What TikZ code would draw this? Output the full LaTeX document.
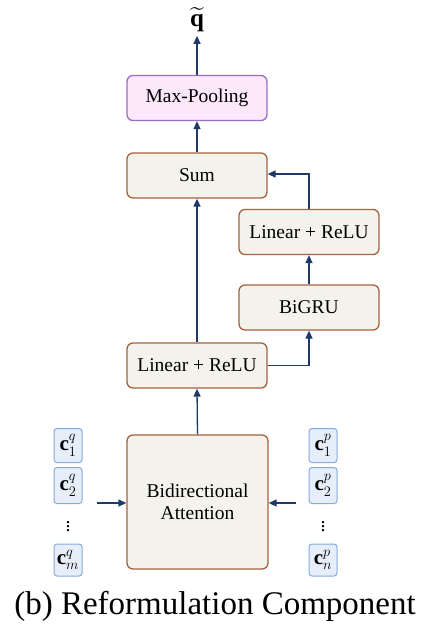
\documentclass[tikz,border=0pt]{standalone}
\usepackage{fontspec}
\setmainfont{Liberation Serif}
\usepackage{amsmath}
\usetikzlibrary{arrows.meta}
\definecolor{boxfill}{HTML}{F4F3EB}
\definecolor{boxdraw}{HTML}{A4623F}
\definecolor{poolfill}{HTML}{FCE8FA}
\definecolor{pooldraw}{HTML}{9A6CC8}
\definecolor{cfill}{HTML}{E6EEF9}
\definecolor{cdraw}{HTML}{86ABDD}
\definecolor{arr}{HTML}{1F3A66}
\begin{document}
\begin{tikzpicture}[x=1pt,y=-1pt,
  blk/.style={draw=boxdraw,fill=boxfill,line width=1.3pt,rounded corners=6pt,minimum width=140pt,minimum height=45pt,inner sep=0pt,font=\fontsize{19.5}{22}\selectfont},
  pool/.style={blk,draw=pooldraw,fill=poolfill},
  cbox/.style={draw=cdraw,fill=cfill,line width=1pt,rounded corners=3pt,minimum width=28pt,minimum height=34pt,inner sep=0pt,font=\fontsize{21}{23}\selectfont},
  dots/.style={inner sep=0pt,font=\fontsize{20}{22}\selectfont},
  conn/.style={draw=arr,line width=1.3pt,-{Triangle[length=8pt,width=7pt]}}]
\useasboundingbox (0,0) rectangle (442,638);
\node[font=\fontsize{25}{27}\selectfont] (q) at (197,20) {$\widetilde{\mathbf{q}}$};
\node[pool] (mp) at (197,98) {Max-Pooling};
\node[blk] (sum) at (197,175.5) {Sum};
\node[blk] (lr2) at (309,232) {Linear + ReLU};
\node[blk] (gru) at (309,307.5) {BiGRU};
\node[blk] (lr1) at (197,365.5) {Linear + ReLU};
\node[blk,minimum width=141pt,minimum height=134pt,align=center] (ba) at (197.5,502) {Bidirectional\\Attention};
\node[cbox] (q1) at (68,445.5) {$\mathbf{c}_1^q$};
\node[cbox,minimum height=36pt] (q2) at (68,485.5) {$\mathbf{c}_2^q$};
\node[dots] (qd) at (68,524) {$\vdots$};
\node[cbox,minimum height=32pt] (qm) at (68,560) {$\mathbf{c}_m^q$};
\node[cbox] (p1) at (323,445.5) {$\mathbf{c}_1^p$};
\node[cbox,minimum height=36pt] (p2) at (323,485.5) {$\mathbf{c}_2^p$};
\node[dots] (pd) at (323,524) {$\vdots$};
\node[cbox,minimum height=32pt] (pn) at (323,560) {$\mathbf{c}_n^p$};
\coordinate (lin) at (97,503);
\coordinate (rin) at (296,503);
\node[font=\fontsize{33}{36}\selectfont,anchor=base] (cap) at (215,614) {(b) Reformulation Component};
\draw[conn] (mp.north) -- (q.south);
\draw[conn] (sum.north) -- (mp.south);
\draw[conn] (lr1.north) -- (sum.south);
\draw[conn] (ba.north) -- (lr1.south);
\draw[conn] (lr1.east) -| (gru.south);
\draw[conn] (gru.north) -- (lr2.south);
\draw[conn] (lr2.north) |- (sum.east |- 0,174);
\draw[conn] (lin) -- (lin -| ba.west);
\draw[conn] (rin) -- (rin -| ba.east);
\end{tikzpicture}
\end{document}
